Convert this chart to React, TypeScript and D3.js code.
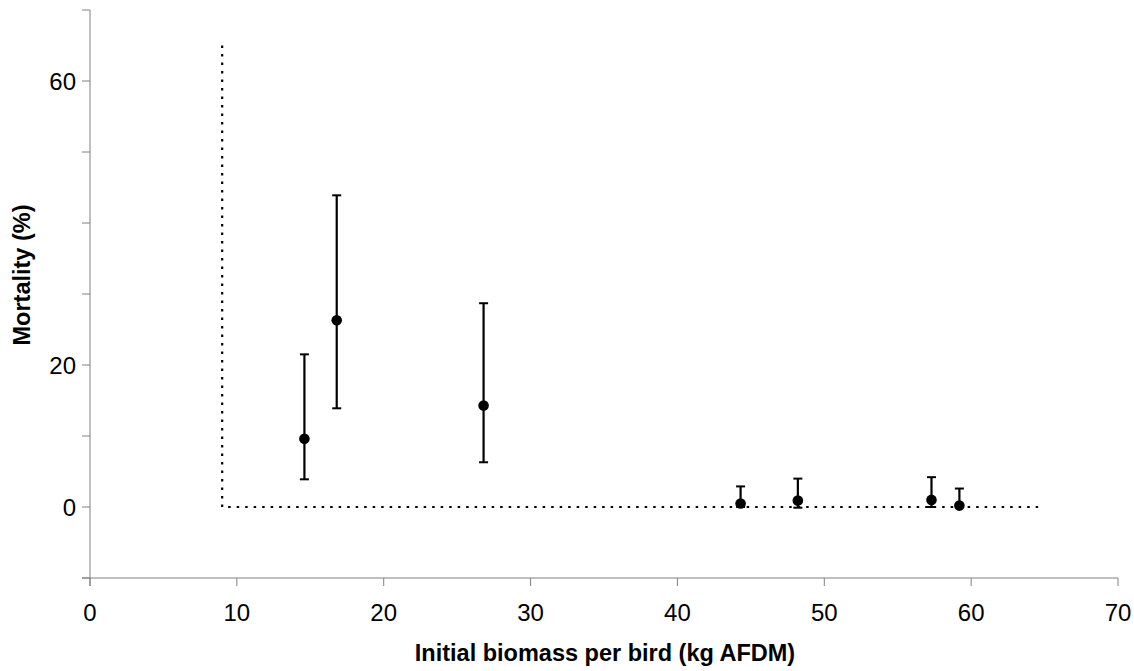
import React from "react";
import * as d3 from "d3";

const biomass = [14.6, 16.8, 26.8, 44.3, 48.2, 57.3, 59.2];
const mortality = [9.6, 26.3, 14.3, 0.5, 0.9, 1.0, 0.2];
const upper = [21.5, 43.9, 28.7, 2.9, 4.0, 4.2, 2.6];
const lower = [3.9, 13.9, 6.3, 0.0, -0.1, 0.0, 0.1];

const thresholdX = 9;
const thresholdTop = 65;
const thresholdEnd = 64.7;

const xTicks = [0, 10, 20, 30, 40, 50, 60, 70];
const yTicks = [-10, 0, 10, 20, 30, 40, 50, 60, 70];
const yTickLabels = [0, 20, 60];

const xTitle = "Initial biomass per bird (kg AFDM)";
const yTitle = "Mortality (%)";

export default function App() {
  const W = 1134;
  const H = 671;
  const x = d3.scaleLinear().domain([0, 70]).range([90, 1118]);
  const y = d3.scaleLinear().domain([-10, 70]).range([578, 10]);
  const axisColor = "#808080";
  const font = "'Liberation Sans', Arial, sans-serif";

  const dotted = d3.line<[number, number]>()
    .x((d) => x(d[0]))
    .y((d) => y(d[1]));

  return (
    <svg
      width={W}
      height={H}
      style={{ position: "absolute", left: 0, top: 0, background: "#fff" }}
    >
      <rect x={0} y={0} width={W} height={H} fill="#fff" />
      {/* axes */}
      <line x1={x(0)} x2={x(0)} y1={y(70)} y2={y(-10) + 8} stroke={axisColor} strokeWidth={1} />
      <line x1={x(0) - 8} x2={x(70)} y1={y(-10)} y2={y(-10)} stroke={axisColor} strokeWidth={1} />
      {yTicks.map((t) => (
        <line key={"yt" + t} x1={x(0) - 8} x2={x(0)} y1={y(t)} y2={y(t)} stroke={axisColor} strokeWidth={1} />
      ))}
      {xTicks.map((t) => (
        <line key={"xt" + t} x1={x(t)} x2={x(t)} y1={y(-10)} y2={y(-10) + 8} stroke={axisColor} strokeWidth={1} />
      ))}
      {yTickLabels.map((t) => (
        <text
          key={"yl" + t}
          x={x(0) - 14}
          y={y(t) + 8.5}
          textAnchor="end"
          fontFamily={font}
          fontSize={24}
          fill="#000"
        >
          {t}
        </text>
      ))}
      {xTicks.map((t) => (
        <text
          key={"xl" + t}
          x={x(t)}
          y={621}
          textAnchor="middle"
          fontFamily={font}
          fontSize={24}
          fill="#000"
        >
          {t}
        </text>
      ))}
      <text
        x={605}
        y={661}
        textAnchor="middle"
        fontFamily={font}
        fontSize={23.5}
        fontWeight="bold"
        fill="#000"
      >
        {xTitle}
      </text>
      <text
        transform={`translate(30,275) rotate(-90)`}
        textAnchor="middle"
        fontFamily={font}
        fontSize={23.5}
        fontWeight="bold"
        fill="#000"
      >
        {yTitle}
      </text>
      {/* threshold dotted line */}
      <path
        d={dotted([
          [thresholdX, thresholdTop],
          [thresholdX, 0],
          [thresholdEnd, 0],
        ]) || ""}
        fill="none"
        stroke="#000"
        strokeWidth={2.2}
        strokeDasharray="2.5 6"
      />
      {/* error bars and points */}
      {biomass.map((b, i) => (
        <g key={"p" + i}>
          <line x1={x(b)} x2={x(b)} y1={y(upper[i])} y2={y(lower[i])} stroke="#000" strokeWidth={2.2} />
          <line x1={x(b) - 4.5} x2={x(b) + 4.5} y1={y(upper[i])} y2={y(upper[i])} stroke="#000" strokeWidth={2} />
          <line x1={x(b) - 4.5} x2={x(b) + 4.5} y1={y(lower[i])} y2={y(lower[i])} stroke="#000" strokeWidth={2} />
          <circle cx={x(b)} cy={y(mortality[i])} r={5.3} fill="#000" />
        </g>
      ))}
    </svg>
  );
}
